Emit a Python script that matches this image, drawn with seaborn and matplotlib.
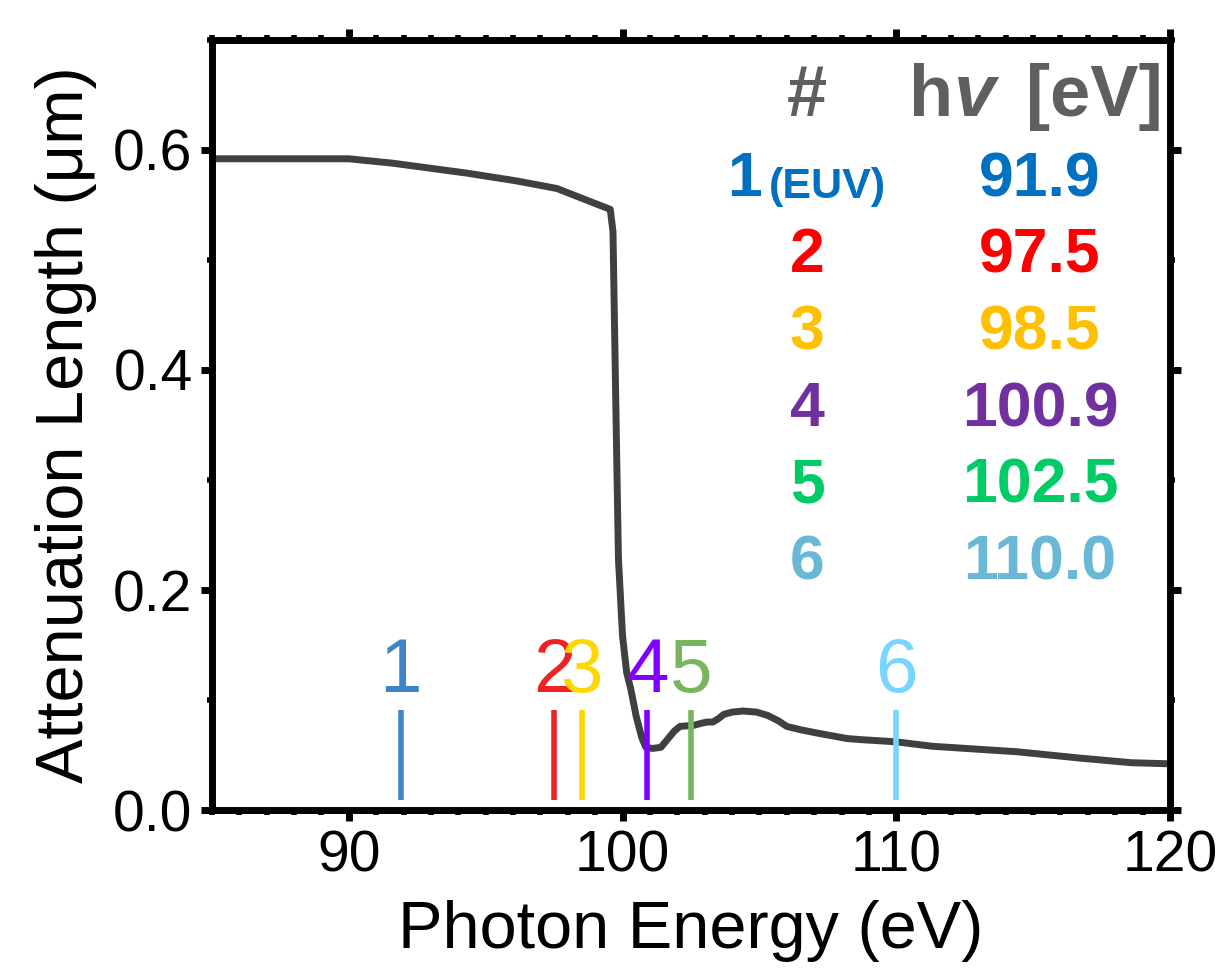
import numpy as np
import pandas as pd
import matplotlib
matplotlib.use("Agg")
import matplotlib.pyplot as plt
import seaborn as sns
from matplotlib.ticker import MultipleLocator, FormatStrFormatter

# ---- data ----
energy = [85, 90, 91.6, 94.3, 96.1, 97.6, 99.55, 99.65, 99.72, 99.8, 99.85, 100.0,
          100.15, 100.3, 100.5, 100.7, 100.85, 101.1, 101.4, 101.6, 101.9, 102.1,
          102.6, 102.9, 103.1, 103.3, 103.5, 103.7, 104.0, 104.4, 104.9, 105.3,
          105.7, 106.0, 106.5, 107.1, 108.2, 108.7, 110.0, 111.3, 114.4,
          116.8, 118.6, 120]
atten = [0.592, 0.592, 0.588, 0.579, 0.572, 0.565, 0.546, 0.526, 0.42, 0.30, 0.228,
         0.158, 0.125, 0.110, 0.085, 0.066, 0.057, 0.056, 0.057, 0.063, 0.072, 0.076,
         0.077, 0.079, 0.080, 0.080, 0.083, 0.087, 0.089, 0.090, 0.089, 0.086,
         0.081, 0.076, 0.073, 0.070, 0.065, 0.064, 0.062, 0.058, 0.053,
         0.047, 0.043, 0.042]

marker_ids = ["1", "2", "3", "4", "5", "6"]
marker_energy = [91.9, 97.5, 98.5, 100.9, 102.5, 110.0]
marker_colors = ["#3d85c6", "#ee2222", "#ffd700", "#8000ff", "#77b55f", "#77d5ff"]

table_ids = ["1", "2", "3", "4", "5", "6"]
table_values = ["91.9", "97.5", "98.5", "100.9", "102.5", "110.0"]
table_colors = ["#0070c0", "#ff0000", "#ffc000", "#7030a0", "#00cc66", "#69b8d6"]

xticks = [90, 100, 110, 120]
yticks = [0.0, 0.2, 0.4, 0.6]

# ---- style ----
sns.set_style("ticks")
plt.rcParams["font.family"] = ["Liberation Sans", "DejaVu Sans"]
plt.rcParams["text.color"] = "black"
plt.rcParams["axes.labelcolor"] = "black"
plt.rcParams["xtick.color"] = "black"
plt.rcParams["ytick.color"] = "black"

fig = plt.figure(figsize=(12.22, 9.75), dpi=100)
ax = fig.add_axes([0.1735, 0.1692, 0.9574 - 0.1735, 0.959 - 0.1692])

df = pd.DataFrame({"energy": energy, "atten": atten})
sns.lineplot(data=df, x="energy", y="atten", ax=ax, color="#404040", lw=5,
             sort=False, estimator=None)

# markers
ax.vlines(marker_energy, 0.009, 0.091, colors=marker_colors, lw=4)
for lab, xe, c in zip(marker_ids, marker_energy, marker_colors):
    ax.text(xe, 0.1075, lab, color=c, fontsize=55, ha="center", va="baseline")

# table
gray = "#5f5f5f"
ax.text(106.74, 0.631, "#", color=gray, fontsize=52, fontweight="bold",
        ha="center", va="baseline")
ax.text(110.45, 0.631, "h", color=gray, fontsize=52, fontweight="bold",
        ha="left", va="baseline")
ax.text(112.1, 0.631, "v", color=gray, fontsize=54, fontweight="bold",
        style="italic", ha="left", va="baseline")
ax.text(114.75, 0.631, "[eV]", color=gray, fontsize=52, fontweight="bold",
        ha="left", va="baseline")

row_base = [0.558, 0.489, 0.419, 0.349, 0.280, 0.2095]
for i, (tid, val, c, yb) in enumerate(zip(table_ids, table_values, table_colors, row_base)):
    if i == 0:
        ax.text(105.1, yb, tid, color=c, fontsize=45, fontweight="bold",
                ha="right", va="baseline")
        ax.text(105.35, yb - 0.002, "(EUV)", color=c, fontsize=31, fontweight="bold",
                ha="left", va="baseline")
    else:
        ax.text(106.74, yb, tid, color=c, fontsize=45, fontweight="bold",
                ha="center", va="baseline")
    ax.text(115.25, yb, val, color=c, fontsize=45, fontweight="bold",
            ha="center", va="baseline")

# axes
ax.set_xlim(85, 120)
ax.set_ylim(0, 0.7)
ax.set_xticks(xticks)
ax.set_yticks(yticks)
ax.yaxis.set_major_formatter(FormatStrFormatter("%.1f"))
ax.xaxis.set_minor_locator(MultipleLocator(1))
ax.yaxis.set_minor_locator(MultipleLocator(0.1))
ax.tick_params(which="major", direction="out", length=8, width=5, labelsize=41,
               top=True, right=True, pad=6, color="black", labelcolor="black")
ax.tick_params(which="minor", direction="out", length=3.5, width=4,
               top=True, right=True, color="black")
for s in ax.spines.values():
    s.set_visible(True)
    s.set_linewidth(5)
    s.set_color("black")

ax.set_xlabel("Photon Energy (eV)", fontsize=48, labelpad=12, color="black")
ax.set_ylabel("Attenuation Length (μm)", fontsize=48, labelpad=12, color="black")

fig.savefig("out.png", dpi=100)
